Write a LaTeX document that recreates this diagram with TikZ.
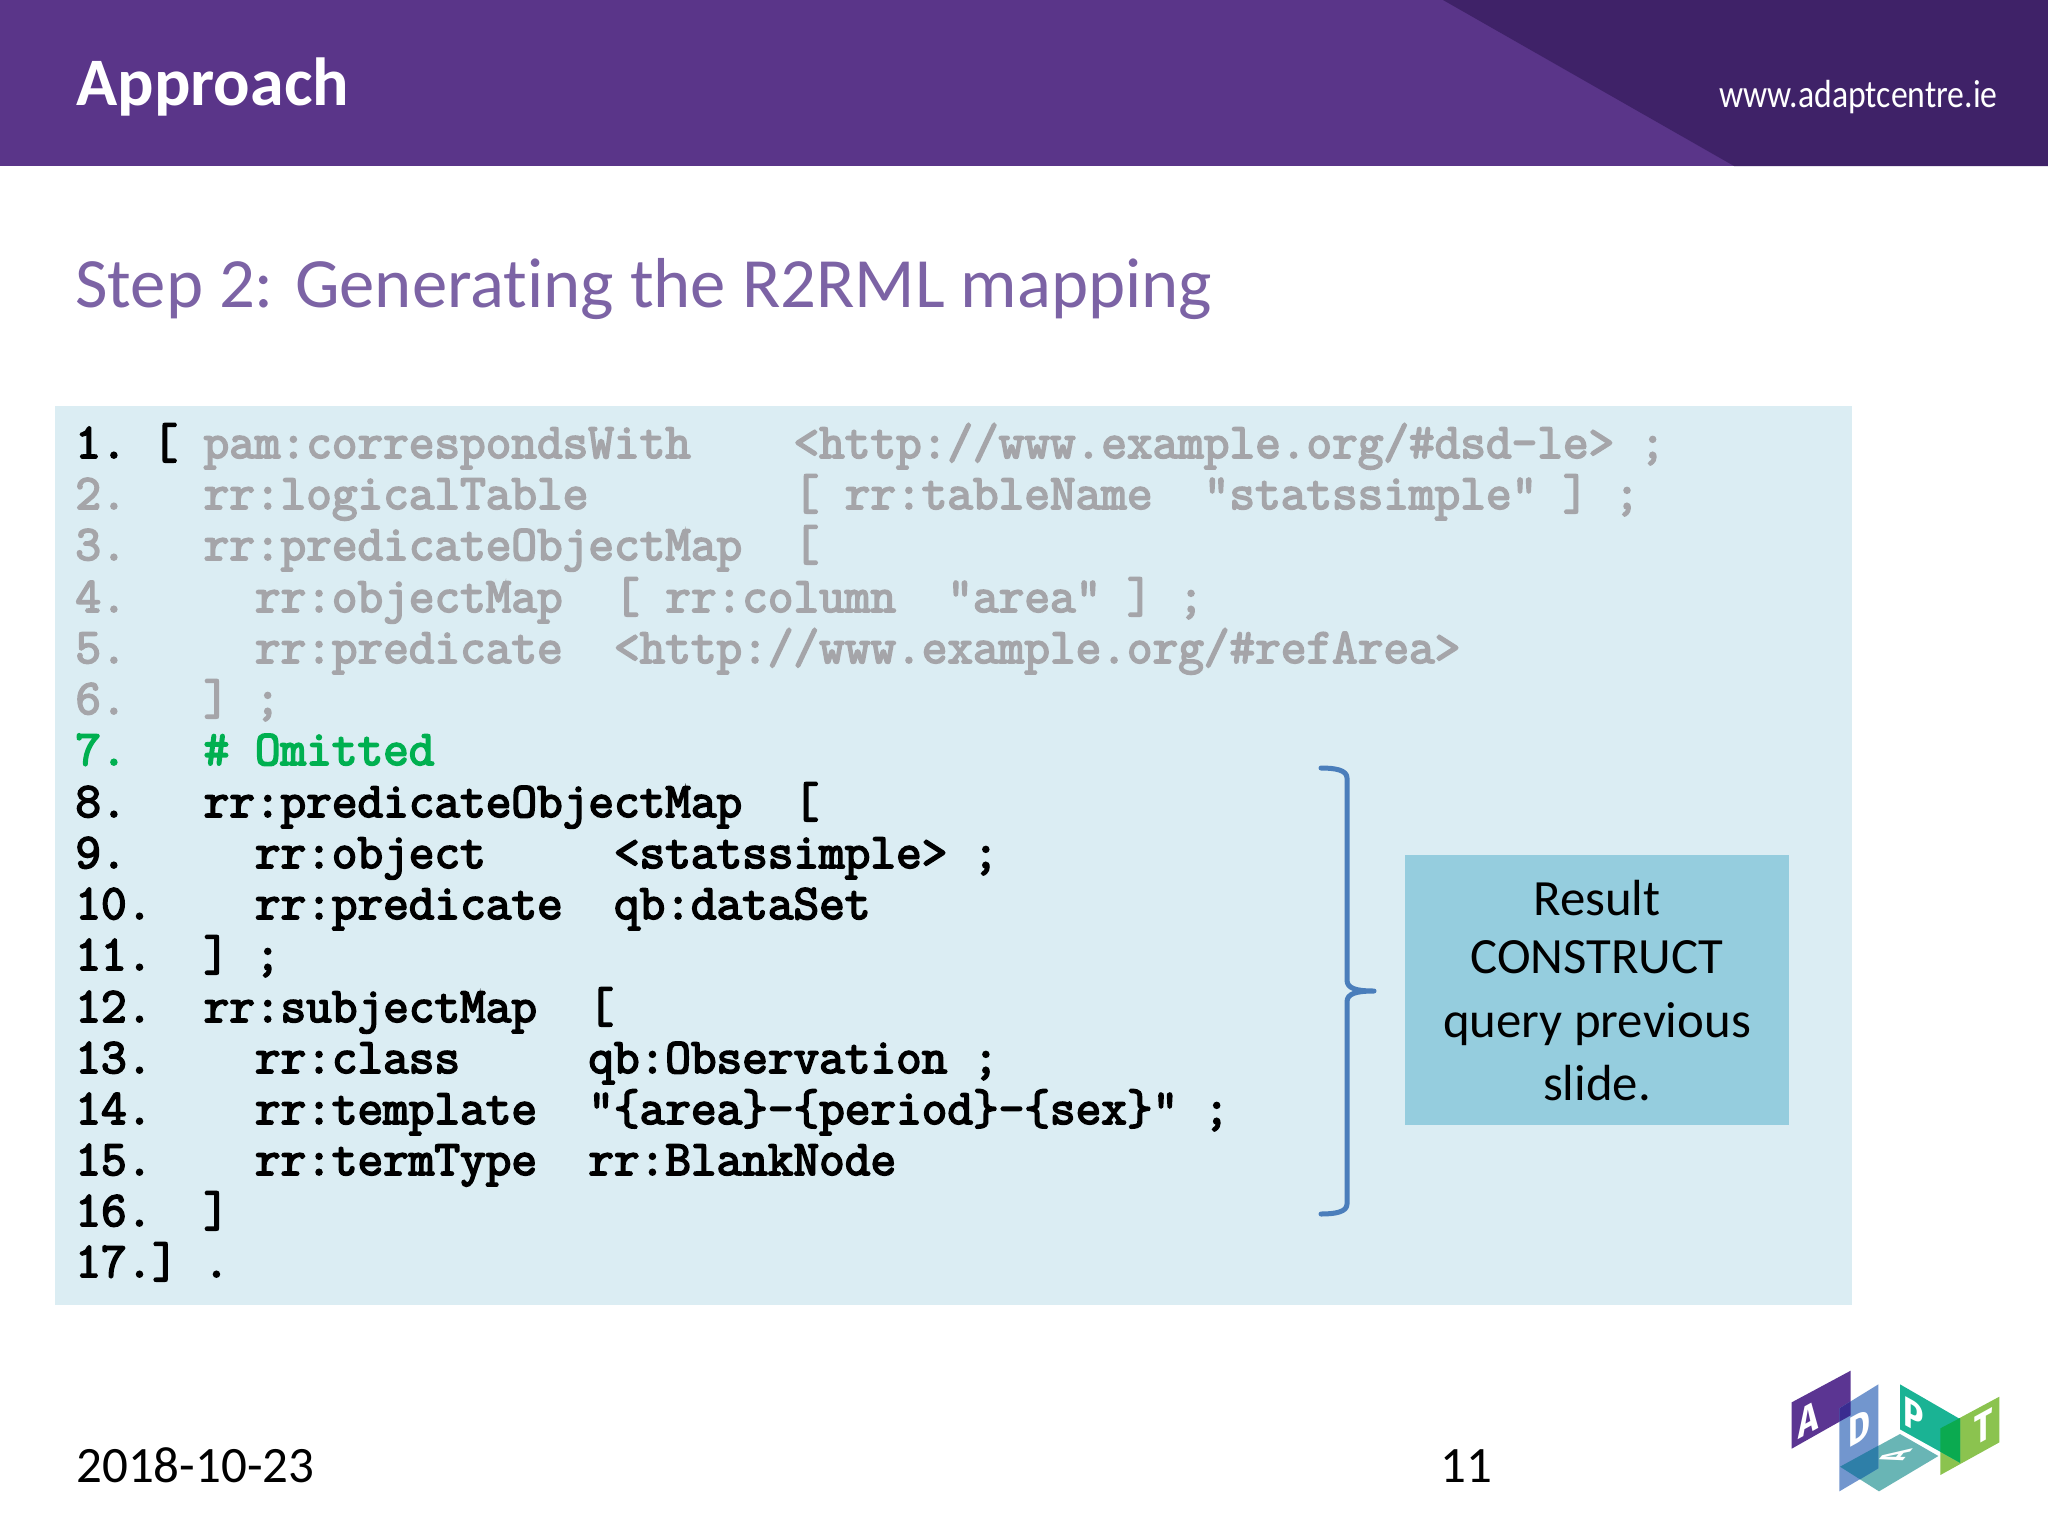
\documentclass[tikz,border=0pt]{standalone}
\usepackage{fontspec}
\setmainfont[Ligatures={NoCommon}]{Carlito}
\newfontfamily\logofont{Fira Sans}
\newfontfamily\webfont[FakeStretch=0.86]{Carlito}
\newfontfamily\codefont[FakeBold=3.5]{Latin Modern Mono}
\definecolor{headA}{HTML}{5A3589}
\definecolor{headB}{HTML}{3F2268}
\definecolor{titlec}{HTML}{7C63A5}
\definecolor{codebg}{HTML}{DBEDF3}
\definecolor{boxbg}{HTML}{95CDDE}
\definecolor{brc}{HTML}{4A7EBB}
\definecolor{gry}{HTML}{A5A5A9}
\definecolor{grn}{HTML}{00B050}
\definecolor{lA}{HTML}{5B3592}
\definecolor{lAD}{HTML}{3A2C90}
\definecolor{lD}{HTML}{7296CE}
\definecolor{lDF}{HTML}{2E7FA8}
\definecolor{lF}{HTML}{69B5B5}
\definecolor{lP}{HTML}{1AB394}
\definecolor{lPT}{HTML}{0BAA50}
\definecolor{lT}{HTML}{8BC34F}
\tikzset{
  codeline/.style={anchor=base west,inner sep=0pt,font=\codefont\fontsize{24.9}{28}\selectfont},
  sidetext/.style={anchor=base,inner sep=0pt,font=\fontsize{25.4}{30}\selectfont},
  foot/.style={anchor=base west,inner sep=0pt,font=\fontsize{25.5}{30}\selectfont},
  logoletter/.style={inner sep=0pt,text=white,font=\logofont\bfseries\fontsize{21}{22}\selectfont,transform shape},
}
\newcommand{\gr}[1]{\textcolor{gry}{#1}}
\newcommand{\logopoly}[2]{\fill[#1] #2 -- cycle;}
\begin{document}
\begin{tikzpicture}[x=0.5pt,y=-0.5pt]
\useasboundingbox (0,0) rectangle (2048,1536);
\fill[white] (0,0) rectangle (2048,1536);
% header
\fill[headA] (0,0) rectangle (2048,166);
\fill[headB] (1443,0) -- (2048,0) -- (2048,166) -- (1734,166) -- cycle;
\node[anchor=base west,inner sep=0pt,text=white,font=\bfseries\fontsize{34}{40}\selectfont] (head) at (76,105) {Approach};
\node[anchor=base east,inner sep=0pt,text=white,font=\webfont\fontsize{19.6}{22}\selectfont] (web) at (1998,107) {www.adaptcentre.ie};
\node[anchor=base west,inner sep=0pt,text=titlec,font=\fontsize{35.35}{40}\selectfont] (title) at (75,307) {Step 2: Generating the R2RML mapping};
% code panel
\fill[codebg] (55,406) rectangle (1852,1305);
\foreach \nm/\yy/\txt in {
 l1/458/{1.~[~\gr{pam:correspondsWith~~~~<http://www.example.org/\#dsd-le>~;}},
 l2/509/{\gr{2.~~~rr:logicalTable~~~~~~~~[~rr:tableName~~"statssimple"~]~;}},
 l3/560/{\gr{3.~~~rr:predicateObjectMap~~[}},
 l4/612/{\gr{4.~~~~~rr:objectMap~~[~rr:column~~"area"~]~;}},
 l5/663/{\gr{5.~~~~~rr:predicate~~<http://www.example.org/\#refArea>}},
 l6/714/{\gr{6.~~~]~;}},
 l7/765/{\textcolor{grn}{7.~~~\#~Omitted}},
 l8/817/{8.~~~rr:predicateObjectMap~~[},
 l9/868/{9.~~~~~rr:object~~~~~<statssimple>~;},
 l10/919/{10.~~~~rr:predicate~~qb:dataSet},
 l11/970/{11.~~]~;},
 l12/1022/{12.~~rr:subjectMap~~[},
 l13/1073/{13.~~~~rr:class~~~~~qb:Observation~;},
 l14/1124/{14.~~~~rr:template~~"\{area\}-\{period\}-\{sex\}"~;},
 l15/1175/{15.~~~~rr:termType~~rr:BlankNode},
 l16/1226/{16.~~]},
 l17/1277/{17.]~.}} {
  \node[codeline] (\nm) at (75,\yy) {\txt};
}
% side box
\fill[boxbg] (1405,855) rectangle (1789,1125);
\node[sidetext] (r1) at (1597,915) {Result};
\node[sidetext] (r2) at (1597,973.5) {CONSTRUCT};
\node[sidetext] (r3) at (1597,1037.5) {query previous};
\node[sidetext] (r4) at (1597,1100) {slide.};
% brace
\coordinate (bt) at (1321,768);
\coordinate (bb) at (1321,1214);
\coordinate (bm) at (1374,991);
\draw[brc,line width=2.5pt,line cap=round,line join=round]
  (bt) .. controls (1335,768) and (1347,770) .. (1347,778) -- (1347,980)
  .. controls (1347,988) and (1355,991) .. (bm)
  .. controls (1355,991) and (1347,994) .. (1347,1002) -- (1347,1204)
  .. controls (1347,1212) and (1335,1214) .. (bb);
% footer
\node[foot] (date) at (76,1482) {2018-10-23};
\node[anchor=base,inner sep=0pt,font=\fontsize{25.5}{30}\selectfont] (page) at (1466,1482) {11};
% logo
\begin{scope}[shift={(1760,1350)},x=0.16667pt,y=-0.16667pt]
\logopoly{lA}{(95,157) -- (272,62) -- (272,196) -- (95,296)}
\logopoly{lF}{(240,350) -- (420,252) -- (535,318) -- (357,424)}
\logopoly{lD}{(238,175) -- (355,103) -- (355,355) -- (238,424)}
\logopoly{lAD}{(238,175) -- (272,154) -- (272,196) -- (238,215)}
\logopoly{lDF}{(240,350) -- (355,287) -- (355,355) -- (300,388)}
\logopoly{lT}{(541,235) -- (718,140) -- (718,277) -- (541,375)}
\logopoly{lP}{(420,103) -- (600,207) -- (600,338) -- (420,238)}
\logopoly{lPT}{(541,235) -- (600,204) -- (600,338) -- (541,305)}
\node[logoletter,yslant=0.55,xscale=0.8] (la) at (145,207) {A};
\node[logoletter,yslant=0.55,xscale=0.8] (ld) at (298,235) {D};
\node[logoletter,yslant=-0.55,xscale=0.8] (lp) at (462,195) {P};
\node[logoletter,yslant=0.55,xscale=0.8] (lt) at (670,230) {T};
\node[logoletter,font=\logofont\bfseries\fontsize{19}{20}\selectfont,cm={0.43,0.52,-1.04,-0.115,(0,0)}] (lf) at (405,318) {A};
\end{scope}
\end{tikzpicture}
\end{document}
